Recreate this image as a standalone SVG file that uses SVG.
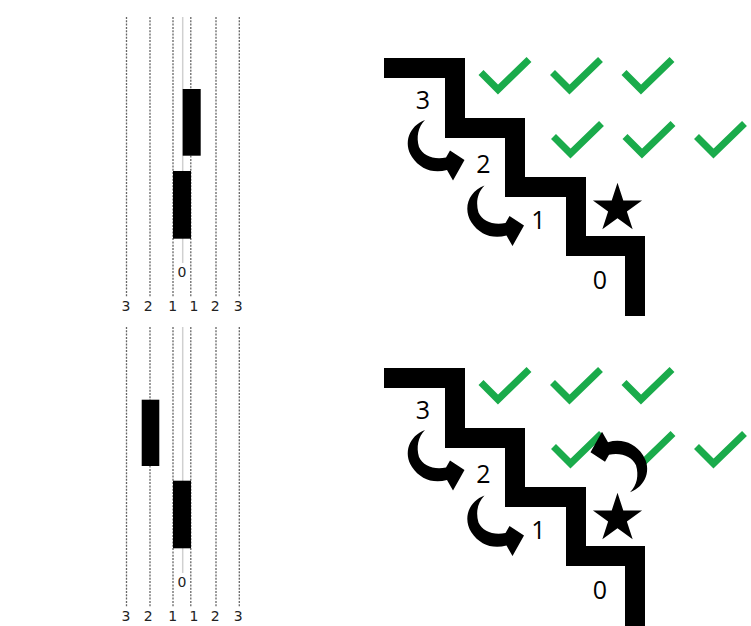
<svg xmlns="http://www.w3.org/2000/svg" xmlns:xlink="http://www.w3.org/1999/xlink" width="751" height="626" viewBox="0 0 751 626">
<style>
.dot{stroke:#666;stroke-width:1.3;stroke-dasharray:2 1.3;fill:none}
.mid{stroke:#d0d0d0;stroke-width:1.5;fill:none}
.bar{fill:#000}
.lt{font-family:"DejaVu Sans",Verdana,sans-serif;font-size:14px;fill:#222;text-anchor:middle}
.rt{font-family:"Open Sans","Liberation Sans",sans-serif;font-size:25px;fill:#000;text-anchor:middle}
.stair{fill:none;stroke:#000;stroke-width:20;stroke-linejoin:miter;stroke-linecap:butt}
.chk{fill:none;stroke:#1aab4b;stroke-width:7;stroke-linejoin:miter;stroke-linecap:butt}
</style>
<defs>
<path id="check" d="M -17 -17 L 0 0 L 31 -30"/>
<path id="arrow" d="M 425 120 C 409 126, 403 143, 412 157 C 420 169, 433 174, 447 170 L 453 180.5 L 464.5 160 L 450 150.5 L 446 157.5 C 434 160, 423 156, 419 147 C 416 137, 418 127, 425 120 Z" fill="#000"/>
<polygon id="star" points="0,-25.8 5.79,-7.97 24.54,-7.97 9.37,3.04 15.17,20.87 0,9.85 -15.17,20.87 -9.37,3.04 -24.54,-7.97 -5.79,-7.97" fill="#000"/>
<g id="lanes">
<line class="mid" x1="182.7" y1="17" x2="182.7" y2="263"/>
<line class="dot" x1="126.5" y1="17" x2="126.5" y2="297"/>
<line class="dot" x1="150" y1="17" x2="150" y2="297"/>
<line class="dot" x1="173" y1="17" x2="173" y2="297"/>
<line class="dot" x1="190.8" y1="17" x2="190.8" y2="297"/>
<line class="dot" x1="216" y1="17" x2="216" y2="297"/>
<line class="dot" x1="239.3" y1="17" x2="239.3" y2="297"/>
<text class="lt" x="182" y="277">0</text>
<text class="lt" x="126" y="310.5">3</text>
<text class="lt" x="148.3" y="310.5">2</text>
<text class="lt" x="172.7" y="310.5">1</text>
<text class="lt" x="194" y="310.5">1</text>
<text class="lt" x="215.3" y="310.5">2</text>
<text class="lt" x="238.3" y="310.5">3</text>
</g>
<g id="stairs">
<polyline class="stair" points="384,68 455,68 455,128 515,128 515,187 576,187 576,246 635,246 635,316"/>
<text class="rt" x="423" y="109">3</text>
<text class="rt" x="483.3" y="173.3">2</text>
<text class="rt" x="538.3" y="229.3">1</text>
<text class="rt" x="600" y="289.3">0</text>
<use xlink:href="#arrow"/>
<use xlink:href="#arrow" transform="translate(59.5 65.5)"/>
<use xlink:href="#star" transform="translate(617.5 208.5)"/>
</g>
</defs>

<g id="top-lanes">
<use xlink:href="#lanes"/>
<rect id="top-block-a" class="bar" x="182.7" y="89" width="18" height="66.7"/>
<rect id="top-block-b" class="bar" x="173" y="171" width="18" height="67.7"/>
</g>

<g id="bottom-lanes">
<use xlink:href="#lanes" transform="translate(0 310)"/>
<rect id="bottom-block-a" class="bar" x="141.7" y="399.7" width="17.6" height="66.3"/>
<rect id="bottom-block-b" class="bar" x="173" y="480.7" width="18" height="67.6"/>
</g>

<g id="top-stairs">
<use xlink:href="#stairs"/>
<g id="top-checks" class="chk">
<use xlink:href="#check" transform="translate(498 89.5)"/>
<use xlink:href="#check" transform="translate(569.5 89.5)"/>
<use xlink:href="#check" transform="translate(641 89.5)"/>
<use xlink:href="#check" transform="translate(570.5 153.5)"/>
<use xlink:href="#check" transform="translate(642 153.5)"/>
<use xlink:href="#check" transform="translate(713.5 153.5)"/>
</g>
</g>

<g id="bottom-stairs">
<use xlink:href="#stairs" transform="translate(0 310)"/>
<g id="bottom-checks" class="chk">
<use xlink:href="#check" transform="translate(498 399.5)"/>
<use xlink:href="#check" transform="translate(569.5 399.5)"/>
<use xlink:href="#check" transform="translate(641 399.5)"/>
<use xlink:href="#check" transform="translate(570.5 463.5)"/>
<use xlink:href="#check" transform="translate(642 463.5)"/>
<use xlink:href="#check" transform="translate(713.5 463.5)"/>
</g>
<use id="back-arrow" xlink:href="#arrow" transform="translate(1055 612.2) rotate(180)"/>
</g>
</svg>
